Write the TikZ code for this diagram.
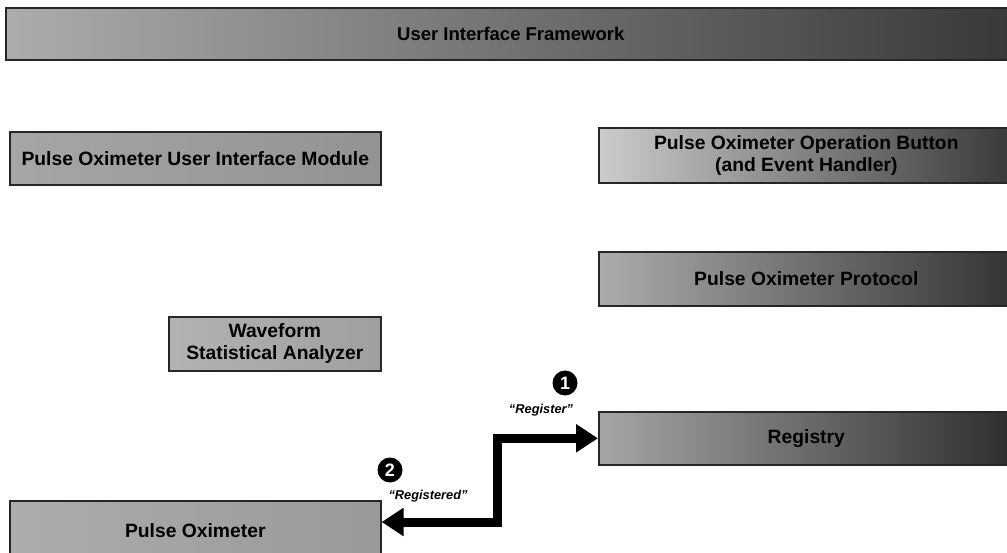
\documentclass[tikz,border=0pt]{standalone}
\usepackage{fontspec}
\setmainfont{Liberation Sans}
\usetikzlibrary{arrows.meta}
\tikzset{
  box/.style={draw=black!85, line width=1.6pt, left color=gray!45, middle color=gray!60, right color=black!80,
    font=\fontsize{19.3}{22}\selectfont\bfseries, align=center, inner sep=0pt, anchor=north west},
  num/.style={circle, fill=black, text=white, inner sep=0pt, minimum size=25pt, font=\fontsize{18}{18}\selectfont\bfseries},
  lbl/.style={font=\fontsize{12.8}{14}\selectfont\bfseries\itshape},
  flow/.style={line width=9pt, {Triangle[length=22pt,width=27pt]}-{Triangle[length=22pt,width=27pt]}}
}
\begin{document}
\begin{tikzpicture}[x=1pt,y=-1pt]
\useasboundingbox[fill=white] (0,0) rectangle (1007,553);
\node[box, left color=gray!65, middle color=gray!35, right color=black!78, font=\fontsize{18.5}{21}\selectfont\bfseries, minimum width=1010pt, minimum height=52pt] (uif) at (5,7) {User Interface Framework};
\node[box, left color=gray!70, middle color=gray!40, right color=gray!85, minimum width=371pt, minimum height=53pt] (ui) at (9,131) {Pulse Oximeter User Interface Module};
\node[box, left color=gray!40, middle color=gray!50, right color=black!78, minimum width=415pt, minimum height=55pt] (btn) at (598,127) {Pulse Oximeter Operation Button\\(and Event Handler)};
\node[box, left color=gray!65, middle color=gray!65, right color=black!80, minimum width=415pt, minimum height=54pt] (proto) at (598,251) {Pulse Oximeter Protocol};
\node[box, left color=gray!60, middle color=gray!60, right color=gray!75, minimum width=212pt, minimum height=54pt] (wsa) at (168,316) {Waveform\\Statistical Analyzer};
\node[box, left color=gray!70, middle color=gray!60, right color=black!82, minimum width=415pt, minimum height=53pt] (reg) at (598,411) {Registry};
\node[box, left color=gray!65, middle color=gray!55, right color=gray!80, minimum width=371pt, minimum height=60pt] (po) at (9,500) {Pulse Oximeter};
\coordinate (bend) at (497,522);
\draw[flow] (po.east |- bend) -- (bend) |- (reg.west);
\node[num] (n1) at (565,383) {1};
\node[lbl] (l1) at (541,410) {“Register”};
\node[num] (n2) at (390,470) {2};
\node[lbl] (l2) at (428,496) {“Registered”};
\end{tikzpicture}
\end{document}
